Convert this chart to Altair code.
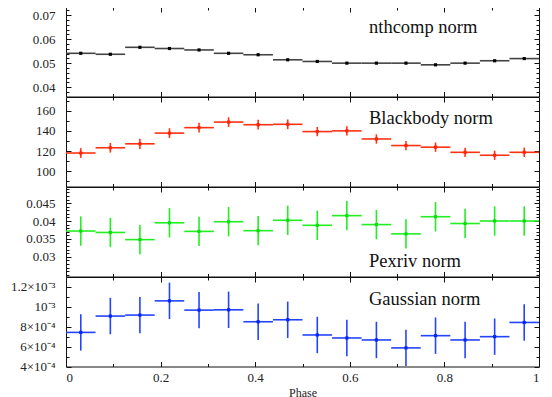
import altair as alt
import pandas as pd

FONT = "Liberation Serif"
W, H = 473, 89.5

edges = [0, 0.0625, 0.125, 0.1875, 0.25, 0.3125, 0.375, 0.4375, 0.5,
         0.5625, 0.625, 0.6875, 0.75, 0.8125, 0.875, 0.9375, 1.0]
phase = [0.03125, 0.09375, 0.15625, 0.21875, 0.28125, 0.34375, 0.40625, 0.46875,
         0.53125, 0.59375, 0.65625, 0.71875, 0.78125, 0.84375, 0.90625, 0.96875]

nth = [0.0541, 0.0537, 0.0566, 0.0561, 0.0555, 0.0541, 0.0535, 0.0514,
       0.0507, 0.0500, 0.0500, 0.0500, 0.0493, 0.0500, 0.0510, 0.0519]
nth_err = [0.0003, 0.0003, 0.0003, 0.0003, 0.0003, 0.0003, 0.0003, 0.0003,
           0.0003, 0.0003, 0.0003, 0.0003, 0.0003, 0.0003, 0.0003, 0.0003]

bb = [118.1, 123.3, 127.2, 137.8, 143.2, 148.7, 146.1, 146.5,
      139.3, 140.0, 132.0, 125.5, 123.9, 118.8, 115.9, 118.8]
bb_err = [4.8, 4.8, 5.0, 4.8, 4.8, 4.8, 4.8, 4.8,
          4.6, 4.6, 4.6, 4.6, 4.6, 4.6, 4.6, 4.6]

pex = [0.0372, 0.0368, 0.0348, 0.0395, 0.0371, 0.0398, 0.0373, 0.0402,
       0.0388, 0.0415, 0.0390, 0.0364, 0.0412, 0.0393, 0.0400, 0.0400]
pex_err = [0.0041, 0.0041, 0.0041, 0.0041, 0.0041, 0.0041, 0.0041, 0.0041,
           0.0041, 0.0041, 0.0041, 0.0041, 0.0041, 0.0041, 0.0041, 0.0041]

gau = [7.43e-4, 9.07e-4, 9.17e-4, 1.06e-3, 9.67e-4, 9.70e-4, 8.50e-4, 8.70e-4,
       7.17e-4, 6.87e-4, 6.67e-4, 5.87e-4, 7.10e-4, 6.67e-4, 7.00e-4, 8.43e-4]
gau_err = [1.83e-4, 1.83e-4, 1.83e-4, 1.83e-4, 1.83e-4, 1.83e-4, 1.83e-4, 1.83e-4,
           1.83e-4, 1.83e-4, 1.83e-4, 1.83e-4, 1.83e-4, 1.83e-4, 1.83e-4, 1.83e-4]

x_major = [0, 0.2, 0.4, 0.6, 0.8, 1.0]
x_major_ticks = [0.2, 0.4, 0.6, 0.8]
x_minor_ticks = [0.1, 0.3, 0.5, 0.7, 0.9]

nth_major = [0.04, 0.05, 0.06, 0.07]
nth_minor = [0.038, 0.042, 0.044, 0.046, 0.048, 0.052, 0.054, 0.056,
             0.058, 0.062, 0.064, 0.066, 0.068, 0.072]
bb_major = [100, 120, 140, 160]
bb_minor = [90, 110, 130, 150, 170]
pex_major = [0.03, 0.035, 0.04, 0.045]
pex_minor = [0.025, 0.026, 0.027, 0.028, 0.029, 0.031, 0.032, 0.033, 0.034, 0.036,
             0.037, 0.038, 0.039, 0.041, 0.042, 0.043, 0.044, 0.046, 0.047, 0.048, 0.049]
gau_major = [4e-4, 6e-4, 8e-4, 1e-3, 1.2e-3]
gau_minor = [5e-4, 7e-4, 9e-4, 1.1e-3, 1.3e-3]
gau_labels = ["4×10⁻⁴", "6×10⁻⁴", "8×10⁻⁴", "10⁻³", "1.2×10⁻³"]

gau_expr = ("abs(datum.value-0.0004)<1e-7 ? '%s' : abs(datum.value-0.0006)<1e-7 ? '%s' : "
            "abs(datum.value-0.0008)<1e-7 ? '%s' : abs(datum.value-0.001)<1e-7 ? '%s' : '%s'"
            % tuple(gau_labels))


def tick_axis(orient, values, size):
    return alt.Axis(values=values, labels=False, domain=False, grid=False, ticks=True,
                    tickSize=size, offset=-size, orient=orient, tickColor="#111",
                    tickWidth=1, title=None, minExtent=0, maxExtent=0)


def panel(vals, errs, color, bar_color, domain, major, minor, title, ty, fmt,
          last=False, label_expr=None):
    df = pd.DataFrame({
        "phase": phase,
        "xlo": edges[:-1],
        "xhi": edges[1:],
        "v": vals,
        "lo": [v - e for v, e in zip(vals, errs)],
        "hi": [v + e for v, e in zip(vals, errs)],
    })
    xs = alt.Scale(domain=[0, 1], nice=False, zero=False)
    ys = alt.Scale(domain=domain, nice=False, zero=False)

    ylab_kw = dict(values=major, ticks=False, domain=False, grid=False, labelPadding=11,
                   labelFont=FONT, labelFontSize=13, labelColor="#222", orient="left",
                   format=fmt, title=None)
    if label_expr:
        ylab_kw["labelExpr"] = label_expr
    ylab = alt.Axis(**ylab_kw)

    if last:
        xlab = alt.Axis(values=x_major, ticks=False, domain=False, grid=False, labelPadding=5,
                        labelFont=FONT, labelFontSize=13, labelColor="#222", format="~g",
                        orient="bottom", title="Phase", titleFont=FONT, titleFontSize=12,
                        titleFontWeight="normal", titleColor="#222", titlePadding=3)
        x1 = alt.X("xlo:Q", scale=xs, axis=xlab)
    else:
        x1 = alt.X("xlo:Q", scale=xs, axis=None)

    base = alt.Chart(df)
    hbar = base.mark_rule(color=bar_color, strokeWidth=1.6).encode(
        x=x1, x2="xhi:Q", y=alt.Y("v:Q", scale=ys, axis=ylab))
    vbar = base.mark_rule(color=bar_color, strokeWidth=1.6).encode(
        x=alt.X("phase:Q", scale=xs, axis=tick_axis("bottom", x_major_ticks, 5)),
        y=alt.Y("lo:Q", scale=ys, axis=tick_axis("left", major, 5)), y2="hi:Q")
    pts = base.mark_square(color=color, size=10, opacity=1).encode(
        x=alt.X("phase:Q", scale=xs, axis=tick_axis("top", x_major_ticks, 5)),
        y=alt.Y("v:Q", scale=ys, axis=tick_axis("left", minor, 3)))
    d1 = base.mark_point(opacity=0).encode(
        x=alt.X("phase:Q", scale=xs, axis=tick_axis("bottom", x_minor_ticks, 3)),
        y=alt.Y("v:Q", scale=ys, axis=tick_axis("right", major, 5)))
    d2 = base.mark_point(opacity=0).encode(
        x=alt.X("phase:Q", scale=xs, axis=tick_axis("top", x_minor_ticks, 3)),
        y=alt.Y("v:Q", scale=ys, axis=tick_axis("right", minor, 3)))
    txt = alt.Chart(pd.DataFrame({"t": [title]})).mark_text(
        font=FONT, fontSize=18.5, align="left", baseline="alphabetic", color="#111"
    ).encode(text="t:N", x=alt.value(303), y=alt.value(ty))

    return alt.layer(hbar, vbar, pts, d1, d2, txt).resolve_axis(
        x="independent", y="independent").properties(width=W, height=H)


p1 = panel(nth, nth_err, "#000000", "#444444", [0.0361, 0.0734], nth_major, nth_minor,
           "nthcomp norm", 26, "~g")
p2 = panel(bb, bb_err, "#ff2200", "#ff3311", [85, 173.5], bb_major, bb_minor,
           "Blackbody norm", 27, "d")
p3 = panel(pex, pex_err, "#00dd00", "#22ee22", [0.0245, 0.0495], pex_major, pex_minor,
           "Pexriv norm", 80, "~g")
p4 = panel(gau, gau_err, "#0022ff", "#2244ff", [4e-4, 1.3e-3], gau_major, gau_minor,
           "Gaussian norm", 27.5, "~g", last=True, label_expr=gau_expr)

chart = alt.vconcat(p1, p2, p3, p4, spacing=0, bounds="flush").properties(
    padding={"left": 2, "top": -2, "right": 0, "bottom": 0}, background="white"
).configure_view(stroke="#111111", strokeWidth=1)

chart.save("out.html", embed_options={"renderer": "svg", "actions": False})
